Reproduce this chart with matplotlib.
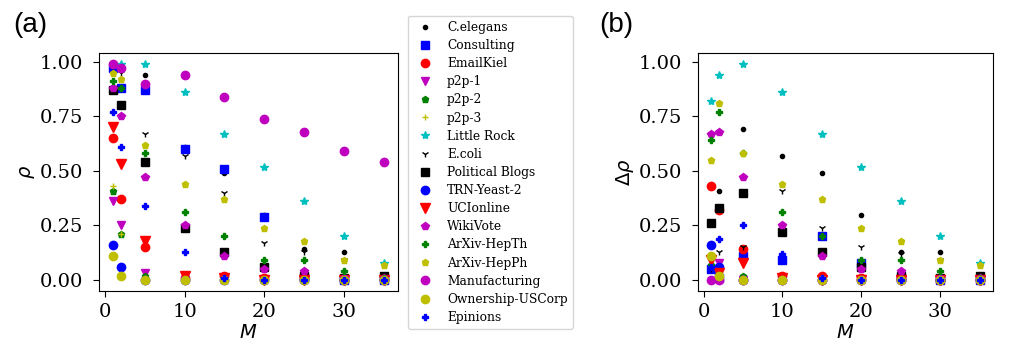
import numpy as np
import matplotlib
matplotlib.use("Agg")
import matplotlib.pyplot as plt

M = [1, 2, 5, 10, 15, 20, 25, 30, 35]

names = ["C.elegans", "Consulting", "EmailKiel", "p2p-1", "p2p-2", "p2p-3",
         "Little Rock", "E.coli", "Political Blogs", "TRN-Yeast-2", "UCIonline",
         "WikiVote", "ArXiv-HepTh", "ArXiv-HepPh", "Manufacturing",
         "Ownership-USCorp", "Epinions"]

# rho (panel a)
rho_celegans = [0.98, 0.97, 0.94, 0.61, 0.49, 0.30, 0.14, 0.13, 0.01]
rho_consulting = [0.97, 0.88, 0.87, 0.60, 0.51, 0.29, 0.01, 0.00, 0.00]
rho_emailkiel = [0.65, 0.37, 0.15, 0.01, 0.02, 0.01, 0.01, 0.00, 0.00]
rho_p2p1 = [0.36, 0.25, 0.03, 0.00, 0.00, 0.00, 0.00, 0.00, 0.00]
rho_p2p2 = [0.41, 0.21, 0.02, 0.00, 0.00, 0.00, 0.00, 0.00, 0.00]
rho_p2p3 = [0.43, 0.21, 0.01, 0.00, 0.00, 0.00, 0.00, 0.00, 0.00]
rho_littlerock = [0.99, 0.99, 0.99, 0.86, 0.67, 0.52, 0.36, 0.20, 0.08]
rho_ecoli = [0.97, 0.95, 0.67, 0.57, 0.40, 0.17, 0.13, 0.09, 0.01]
rho_polblogs = [0.87, 0.80, 0.54, 0.24, 0.13, 0.06, 0.02, 0.01, 0.02]
rho_trn = [0.16, 0.06, 0.00, 0.00, 0.00, 0.00, 0.00, 0.00, 0.00]
rho_ucionline = [0.70, 0.53, 0.18, 0.02, 0.01, 0.00, 0.00, 0.00, 0.00]
rho_wikivote = [0.88, 0.75, 0.47, 0.25, 0.11, 0.05, 0.04, 0.01, 0.01]
rho_hepth = [0.91, 0.88, 0.58, 0.31, 0.20, 0.09, 0.09, 0.04, 0.01]
rho_hepph = [0.95, 0.92, 0.62, 0.44, 0.37, 0.24, 0.18, 0.09, 0.07]
rho_manufacturing = [0.99, 0.97, 0.90, 0.94, 0.84, 0.74, 0.68, 0.59, 0.54]
rho_ownership = [0.11, 0.02, 0.00, 0.00, 0.00, 0.00, 0.00, 0.00, 0.00]
rho_epinions = [0.77, 0.61, 0.34, 0.13, 0.01, 0.00, 0.00, 0.00, 0.00]

# delta rho (panel b)
drho_celegans = [0.06, 0.41, 0.69, 0.57, 0.49, 0.30, 0.13, 0.13, 0.01]
drho_consulting = [0.05, 0.01, 0.11, 0.09, 0.20, 0.08, 0.01, 0.00, 0.00]
drho_emailkiel = [0.43, 0.32, 0.14, 0.02, 0.02, 0.01, 0.01, 0.00, 0.00]
drho_p2p1 = [0.09, 0.08, 0.00, 0.00, 0.00, 0.00, 0.00, 0.00, 0.00]
drho_p2p2 = [0.07, 0.03, 0.02, 0.00, 0.00, 0.00, 0.00, 0.00, 0.00]
drho_p2p3 = [0.06, 0.02, 0.01, 0.00, 0.00, 0.00, 0.00, 0.00, 0.00]
drho_littlerock = [0.82, 0.94, 0.99, 0.86, 0.67, 0.52, 0.36, 0.20, 0.08]
drho_ecoli = [0.05, 0.13, 0.15, 0.41, 0.24, 0.15, 0.12, 0.09, 0.01]
drho_polblogs = [0.26, 0.33, 0.40, 0.22, 0.13, 0.06, 0.02, 0.01, 0.02]
drho_trn = [0.16, 0.06, 0.00, 0.00, 0.00, 0.00, 0.00, 0.00, 0.00]
drho_ucionline = [0.09, 0.03, 0.08, 0.01, 0.00, 0.00, 0.00, 0.00, 0.00]
drho_wikivote = [0.67, 0.68, 0.47, 0.25, 0.11, 0.05, 0.04, 0.01, 0.01]
drho_hepth = [0.64, 0.77, 0.58, 0.31, 0.20, 0.09, 0.09, 0.04, 0.01]
drho_hepph = [0.55, 0.81, 0.58, 0.44, 0.37, 0.24, 0.18, 0.09, 0.07]
drho_manufacturing = [0.00, 0.00, 0.00, 0.00, 0.00, 0.00, 0.00, 0.00, 0.00]
drho_ownership = [0.11, 0.02, 0.00, 0.00, 0.00, 0.00, 0.00, 0.00, 0.00]
drho_epinions = [0.06, 0.19, 0.25, 0.12, 0.01, 0.00, 0.00, 0.00, 0.00]

rho = [rho_celegans, rho_consulting, rho_emailkiel, rho_p2p1, rho_p2p2, rho_p2p3,
       rho_littlerock, rho_ecoli, rho_polblogs, rho_trn, rho_ucionline,
       rho_wikivote, rho_hepth, rho_hepph, rho_manufacturing, rho_ownership,
       rho_epinions]
drho = [drho_celegans, drho_consulting, drho_emailkiel, drho_p2p1, drho_p2p2,
        drho_p2p3, drho_littlerock, drho_ecoli, drho_polblogs, drho_trn,
        drho_ucionline, drho_wikivote, drho_hepth, drho_hepph,
        drho_manufacturing, drho_ownership, drho_epinions]

styles = [("k", ".", 6), ("b", "s", 6), ("r", "o", 6), ("m", "v", 6),
          ("g", "p", 5), ("y", "+", 5), ("c", "*", 6), ("k", "1", 5),
          ("k", "s", 6), ("b", "o", 6), ("r", "v", 7), ("m", "p", 6),
          ("g", "P", 5), ("y", "p", 5), ("m", "o", 6), ("y", "o", 6),
          ("b", "P", 5)]

fig = plt.figure(figsize=(10.16, 3.55), dpi=100)
ax1 = fig.add_axes([0.0974, 0.181, 0.2943, 0.669])
ax2 = fig.add_axes([0.687, 0.181, 0.2904, 0.669])

for ax, data in [(ax1, rho), (ax2, drho)]:
    for name, vals, (c, mk, ms) in zip(names, data, styles):
        ax.plot(M, vals, linestyle="none", color=c, marker=mk, markersize=ms,
                label=name)
    ax.set_yticks([0.0, 0.25, 0.5, 0.75, 1.0])
    ax.set_yticklabels(["0.00", "0.25", "0.50", "0.75", "1.00"])
    ax.set_xticks([0, 10, 20, 30])
    ax.tick_params(axis="y", length=4.5, pad=7)
    ax.tick_params(axis="x", length=4.5, pad=4.5)
    for lab in ax.get_xticklabels() + ax.get_yticklabels():
        lab.set_family("DejaVu Serif")
        lab.set_fontsize(14)
    ax.set_xlabel("$M$", fontsize=14, labelpad=1)

ax1.set_ylabel(r"$\rho$", fontsize=14, labelpad=2)
ax2.set_ylabel(r"$\Delta\rho$", fontsize=14, labelpad=2)

fig.text(0.013, 0.965, "(a)", fontsize=20, family="Liberation Sans", va="top")
fig.text(0.59, 0.965, "(b)", fontsize=20, family="Liberation Sans", va="top")

handles, labels = ax1.get_legend_handles_labels()
fig.legend(handles, labels, loc="upper left", bbox_to_anchor=(0.4016, 0.955),
           borderaxespad=0, prop={"family": "DejaVu Serif", "size": 8.8},
           labelspacing=0.42, numpoints=1)

fig.savefig("out.png", dpi=100)
